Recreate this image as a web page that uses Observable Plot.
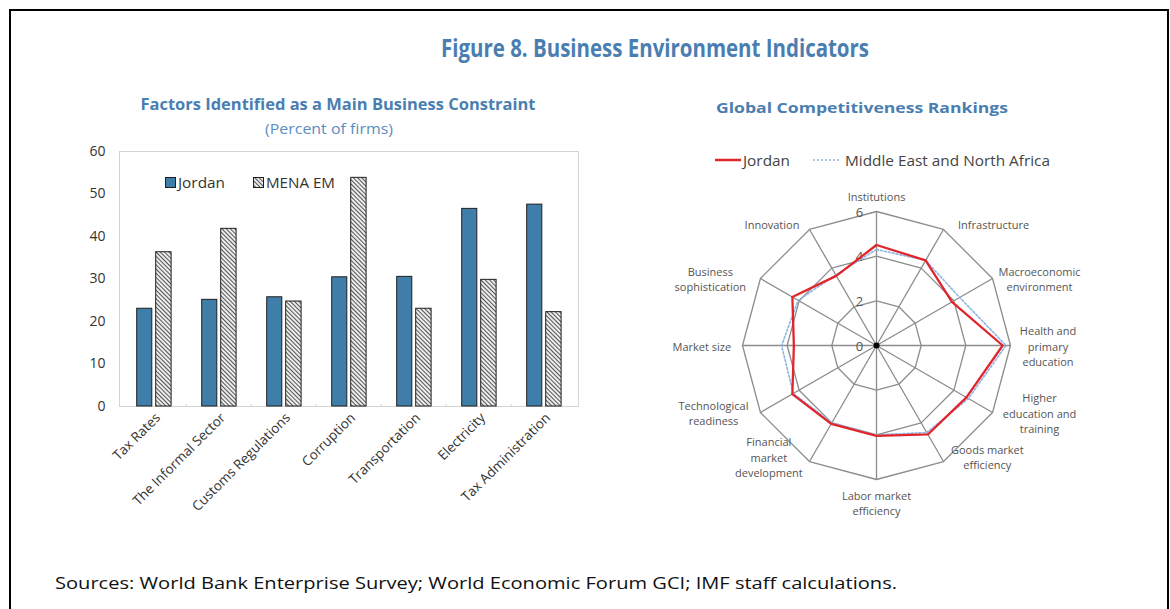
<!DOCTYPE html>
<html><head><meta charset="utf-8">
<script src="https://cdn.jsdelivr.net/npm/d3@7"></script>
<script src="https://cdn.jsdelivr.net/npm/@observablehq/plot@0.6"></script>
<style>
body{margin:0;background:#fff;font-family:"Open Sans",sans-serif;}
#page{position:relative;width:1170px;height:609px;overflow:hidden;background:#fff;}
#border{position:absolute;left:9px;top:9px;width:1156px;height:700px;border:2px solid #000;}
#bar{position:absolute;left:74px;top:141px;}
#radar{position:absolute;left:656px;top:145px;}
#overlay{position:absolute;left:0;top:0;}
</style></head><body>
<div id="page"><div id="border"></div><div id="bar"></div><div id="radar"></div>
<svg id="overlay" width="1170" height="609"></svg></div>
<script>
// ---------- data ----------
const categories = ["Tax Rates","The Informal Sector","Customs Regulations","Corruption","Transportation","Electricity","Tax Administration"];
const jordan = [23.0, 25.1, 25.7, 30.4, 30.5, 46.5, 47.5];
const menaEM = [36.3, 41.8, 24.7, 53.8, 23.0, 29.8, 22.2];
const yTicks = [0, 10, 20, 30, 40, 50, 60];

const pillars = ["Institutions","Infrastructure","Macroeconomic\nenvironment","Health and\nprimary\neducation","Higher\neducation and\ntraining","Goods market\nefficiency","Labor market\nefficiency","Financial\nmarket\ndevelopment","Technological\nreadiness","Market size","Business\nsophistication","Innovation"];
const jordanGCI = [4.5, 4.4, 3.9, 5.65, 4.65, 4.6, 4.05, 4.05, 4.35, 3.7, 4.35, 3.6];
const menaGCI   = [4.3, 4.4, 4.3, 5.8, 4.75, 4.5, 4.0, 4.0, 4.3, 4.25, 4.05, 3.65];
const rings = [2, 4, 6];
const radarTicks = [0, 2, 4, 6];

// ---------- bar chart ----------
const barData = categories.map((c, i) => ({cat: c, jordan: jordan[i], mena: menaEM[i]}));
const plotW = 459, bw = plotW / categories.length;
const barPlot = Plot.plot({
  width: 514, height: 385, marginLeft: 45, marginRight: 10, marginTop: 10, marginBottom: 120,
  style: {fontFamily: "Open Sans", fontSize: "13px", color: "#333", background: "transparent", overflow: "visible"},
  x: {domain: categories, padding: 0, label: null},
  y: {domain: [0, 60], label: null},
  marks: [
    Plot.frame({stroke: "#d4d4d4"}),
    Plot.ruleX(categories.slice(1), {x: d => d, dx: -bw / 2, y1: 0, y2: 0.4, stroke: "#cfcfcf"}),
    Plot.barY(barData, {x: "cat", y: "jordan", fill: "#3f7ea8", stroke: "#1f1f1f", strokeWidth: 1, insetLeft: 15.7, insetRight: 34.2}),
    Plot.barY(barData, {x: "cat", y: "mena", fill: "url(#hatch)", stroke: "#1f1f1f", strokeWidth: 1, insetLeft: 34.7, insetRight: 14.9}),
    Plot.axisY({ticks: yTicks, tickSize: 0, tickPadding: 14, fontSize: 14, label: null}),
    Plot.axisX({tickRotate: -45, tickSize: 0, tickPadding: 9, fontSize: 13.5, label: null, dx: 4})
  ]
});
const defs = d3.select(barPlot).insert("defs", ":first-child");
const pat = defs.append("pattern").attr("id", "hatch").attr("patternUnits", "userSpaceOnUse")
  .attr("width", 3).attr("height", 3).attr("patternTransform", "rotate(-45)");
pat.append("rect").attr("width", 3).attr("height", 3).attr("fill", "#ececec");
pat.append("line").attr("x1", 0.5).attr("y1", 0).attr("x2", 0.5).attr("y2", 3).attr("stroke", "#555").attr("stroke-width", 1);
document.getElementById("bar").appendChild(barPlot);

// ---------- radar chart ----------
const k = 134 / 6;           // px per unit
const W = 440, H = 400, cx = 220, cy = 200;
const ang = i => i * Math.PI * 2 / pillars.length;
const pt = (i, r) => ({x: r * Math.sin(ang(i)), y: r * Math.cos(ang(i))});
const closed = vals => [...vals, vals[0]].map((v, j) => pt(j % pillars.length, v));
const ringPts = rings.flatMap(r => [...pillars, pillars[0]].map((_, j) => ({...pt(j % pillars.length, r), level: r})));
const spokes = pillars.map((_, i) => pt(i, 6));
const labelData = pillars.map((p, i) => {
  const s = Math.sin(ang(i)), c = Math.cos(ang(i));
  const maxLen = Math.max(...p.split("\n").map(l => l.length));
  const side = Math.abs(s) < 0.01 ? 0 : Math.sign(s);
  const halfW = maxLen * 3.15 + 6;
  let y = 6 * c;
  let anchor = "middle";
  if (side === 0) { anchor = c > 0 ? "bottom" : "top"; y += (c > 0 ? 11 : -9) / k; }
  else if (Math.abs(c) > 0.8) { y += 5 / k; }
  return {text: p, x: 6 * s + side * halfW / k, y, anchor};
});

const radarPlot = Plot.plot({
  width: W, height: H, margin: 0,
  style: {fontFamily: "Open Sans", background: "transparent", overflow: "visible"},
  x: {domain: [-cx / k, (W - cx) / k], range: [0, W], axis: null},
  y: {domain: [-(H - cy) / k, cy / k], range: [H, 0], axis: null},
  marks: [
    Plot.line(ringPts, {x: "x", y: "y", z: "level", stroke: "#8c8c8c", strokeWidth: 1.3}),
    Plot.link(spokes, {x1: 0, y1: 0, x2: "x", y2: "y", stroke: "#8c8c8c", strokeWidth: 1.3}),
    Plot.text(radarTicks, {x: 0, y: d => d, text: d => String(d), dx: -17, dy: 1, fontSize: 13, fill: "#555"}),
    Plot.dot([0], {x: 0, y: 0, r: 3, fill: "#000"}),
    Plot.line(closed(menaGCI), {x: "x", y: "y", stroke: "#8db3e2", strokeWidth: 1.6, strokeDasharray: "2,2", curve: "linear"}),
    Plot.line(closed(jordanGCI), {x: "x", y: "y", stroke: "#e2242b", strokeWidth: 2.3, curve: "linear"}),
    ...["top", "bottom", "middle"].map(a => Plot.text(labelData.filter(d => d.anchor === a), {
      x: "x", y: "y", text: "text", lineAnchor: a, textAnchor: "middle", fontSize: 11, lineHeight: 1.42, fill: "#555"
    }))
  ]
});
document.getElementById("radar").appendChild(radarPlot);

// ---------- titles, legends, footer ----------
const ov = d3.select("#overlay");
const od = ov.append("defs");
const p2 = od.append("pattern").attr("id", "hatchL").attr("patternUnits", "userSpaceOnUse")
  .attr("width", 3).attr("height", 3).attr("patternTransform", "rotate(-45)");
p2.append("rect").attr("width", 3).attr("height", 3).attr("fill", "#ececec");
p2.append("line").attr("x1", 0.5).attr("y1", 0).attr("x2", 0.5).attr("y2", 3).attr("stroke", "#555");

function txt(s, x, y, opts) {
  const t = ov.append("text").attr("x", x).attr("y", y).text(s)
    .attr("font-family", "Open Sans").attr("font-size", opts.size).attr("fill", opts.fill)
    .attr("font-weight", opts.weight || 400).attr("text-anchor", opts.anchor || "start");
  if (opts.len) t.attr("textLength", opts.len).attr("lengthAdjust", "spacingAndGlyphs");
  return t;
}
const blue = "#4a7eb1";
txt("Figure 8. Business Environment Indicators", 655, 57, {size: 25, fill: blue, weight: 700, anchor: "middle", len: 428});
txt("Factors Identified as a Main Business Constraint", 338, 110, {size: 15.5, fill: blue, weight: 700, anchor: "middle", len: 395});
txt("(Percent of firms)", 329, 134, {size: 15, fill: "#5a8dbf", anchor: "middle", len: 128});
txt("Global Competitiveness Rankings", 862, 113, {size: 14, fill: blue, weight: 700, anchor: "middle", len: 292});
txt("Sources: World Bank Enterprise Survey; World Economic Forum GCI; IMF staff calculations.", 55, 589, {size: 17, fill: "#111", len: 842});

// bar legend
ov.append("rect").attr("x", 165.5).attr("y", 177.5).attr("width", 10).attr("height", 10).attr("fill", "#3f7ea8").attr("stroke", "#1f1f1f");
txt("Jordan", 178, 188, {size: 14, fill: "#333", len: 47});
ov.append("rect").attr("x", 253.5).attr("y", 177.5).attr("width", 10).attr("height", 10).attr("fill", "url(#hatchL)").attr("stroke", "#1f1f1f");
txt("MENA EM", 266, 188, {size: 14, fill: "#333", len: 69});

// radar legend
ov.append("line").attr("x1", 715).attr("x2", 741).attr("y1", 160).attr("y2", 160).attr("stroke", "#e2242b").attr("stroke-width", 2.5);
txt("Jordan", 743, 166, {size: 15, fill: "#444", len: 47});
ov.append("line").attr("x1", 813).attr("x2", 839).attr("y1", 160).attr("y2", 160).attr("stroke", "#8db3e2").attr("stroke-width", 1.5).attr("stroke-dasharray", "2,2");
txt("Middle East and North Africa", 845, 166, {size: 15, fill: "#444", len: 205});
</script>
</body></html>
